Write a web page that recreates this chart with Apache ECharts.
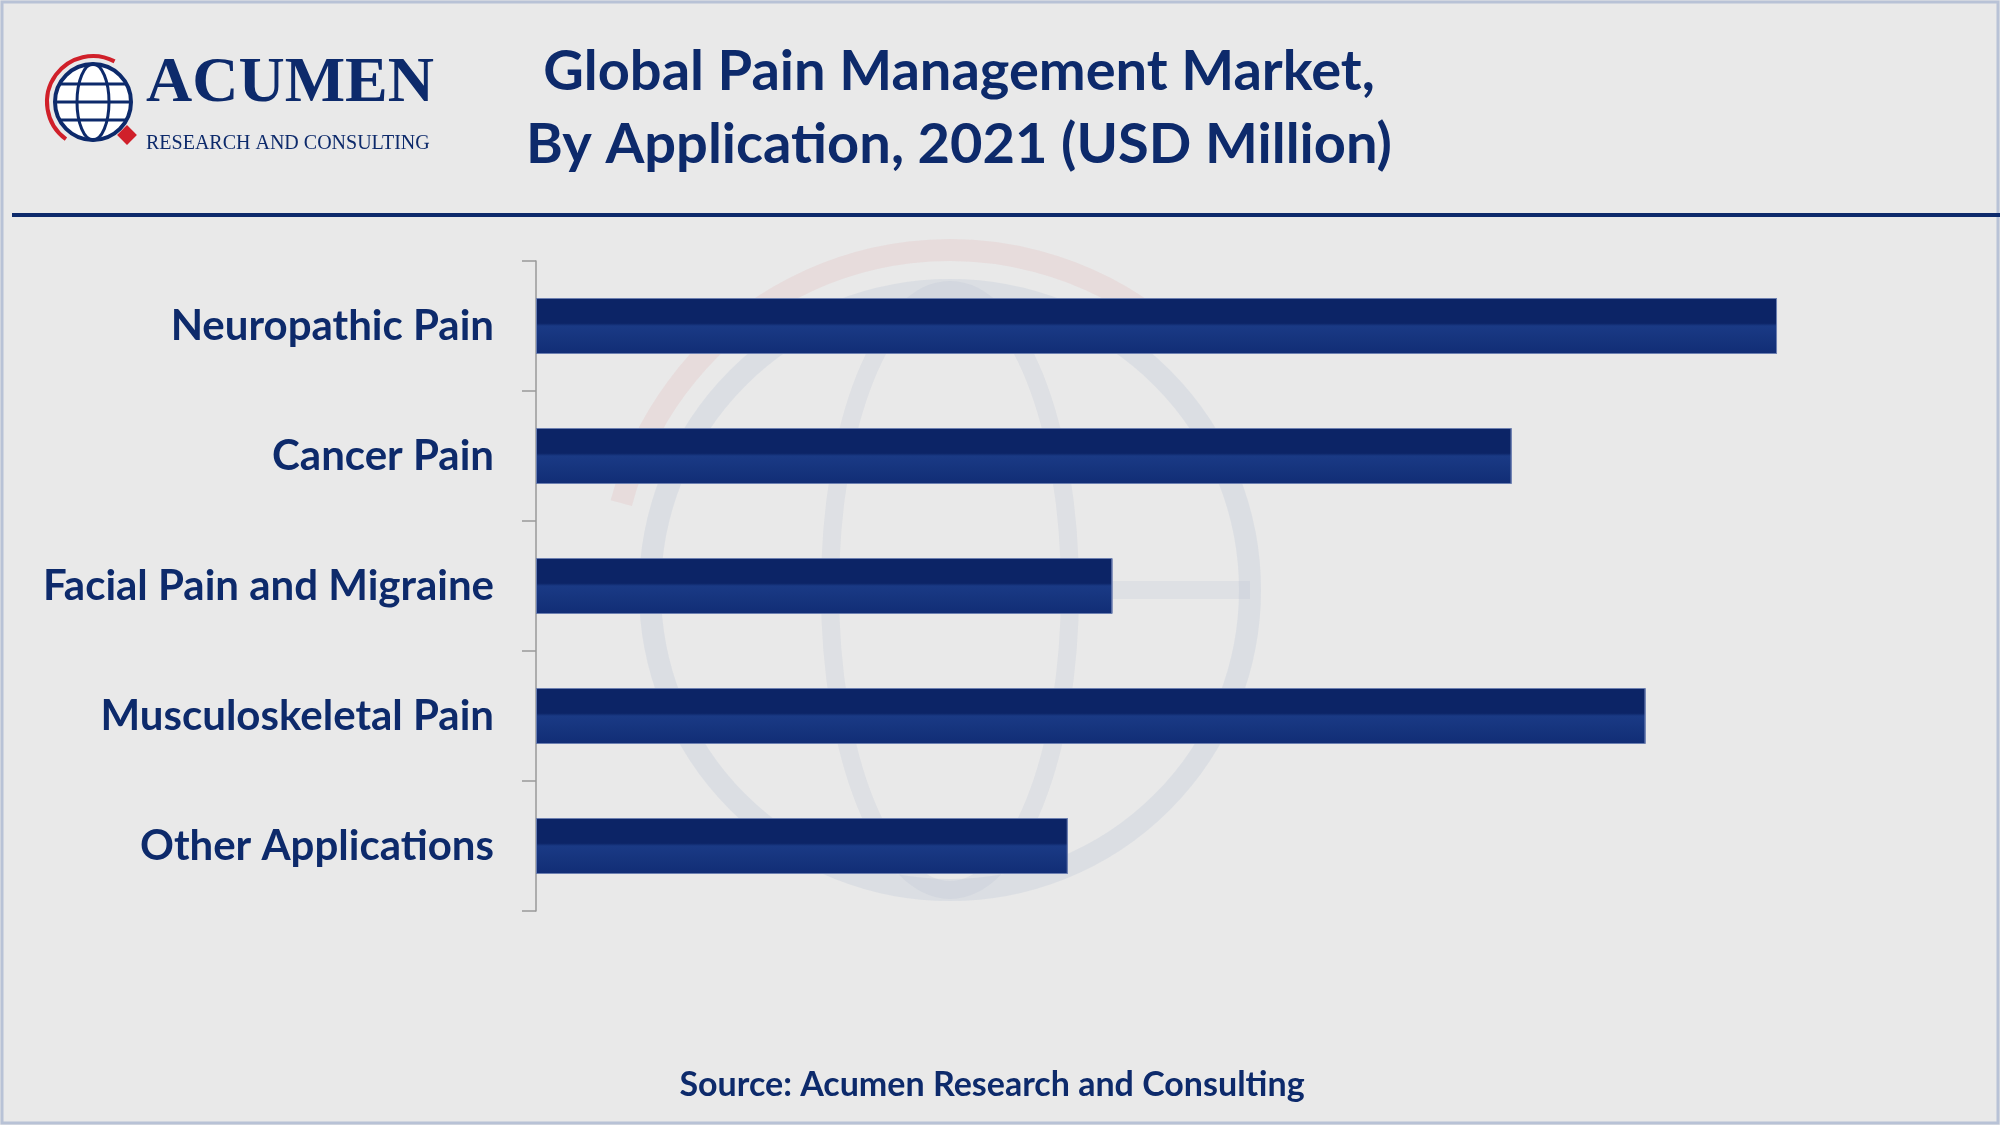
<!DOCTYPE html>
<html>
<head>
<meta charset="utf-8">
<script src="https://cdn.jsdelivr.net/npm/echarts@6/dist/echarts.min.js"></script>
<style>
  html, body { margin: 0; padding: 0; background: #e9e9e9; }
  #chart { width: 2000px; height: 1125px; }
</style>
</head>
<body>
<div id="chart"></div>
<script>
// data (relative bar lengths)
var categories = ['Neuropathic Pain', 'Cancer Pain', 'Facial Pain and Migraine', 'Musculoskeletal Pain', 'Other Applications'];
var values = [973, 765, 452, 870, 417];

var navy = '#0d2a6b';
var font = 'Lato, "Open Sans", sans-serif';

var myChart = echarts.init(document.getElementById('chart'));

var option = {
    backgroundColor: '#e9e9e9',
    grid: { left: 536, right: 61, top: 261, height: 650 },
    xAxis: {
        type: 'value', min: 0, max: 1100,
        show: false
    },
    yAxis: {
        type: 'category',
        data: categories,
        inverse: true,
        axisLine: { lineStyle: { color: '#999', width: 1.5 } },
        axisTick: { show: true, length: 14, lineStyle: { color: '#999', width: 1.5 } },
        axisLabel: { color: navy, fontSize: 42, fontWeight: 'bold', fontFamily: font, margin: 42 }
    },
    series: [{
        type: 'bar',
        data: values,
        barWidth: 56,
        itemStyle: {
            color: new echarts.graphic.LinearGradient(0, 0, 0, 1, [
                { offset: 0, color: '#0c2466' },
                { offset: 0.45, color: '#0c2466' },
                { offset: 0.5, color: '#1a3a85' },
                { offset: 1, color: '#112d75' }
            ]),
            borderColor: '#6c7fb0', borderWidth: 1
        },
        z: 3
    }],
    graphic: [
        // frame
        { type: 'rect', shape: { x: 2, y: 2, width: 1996, height: 1121 }, style: { fill: null, stroke: '#b8c2d6', lineWidth: 3 }, silent: true },
        // watermark globe
        { type: 'circle', shape: { cx: 950, cy: 590, r: 300 }, style: { fill: null, stroke: 'rgba(180,190,210,0.25)', lineWidth: 22 }, z: 0 },
        { type: 'ellipse', shape: { cx: 950, cy: 590, rx: 120, ry: 300 }, style: { fill: null, stroke: 'rgba(180,190,210,0.22)', lineWidth: 18 }, z: 0 },
        { type: 'line', shape: { x1: 650, y1: 590, x2: 1250, y2: 590 }, style: { stroke: 'rgba(180,190,210,0.22)', lineWidth: 18 }, z: 0 },
        { type: 'arc', shape: { cx: 950, cy: 590, r: 340, startAngle: 3.4, endAngle: 5.4 }, style: { fill: null, stroke: 'rgba(220,150,150,0.15)', lineWidth: 22 }, z: 0 },
        // logo
        { type: 'circle', shape: { cx: 93, cy: 102, r: 38 }, style: { fill: '#fff', stroke: navy, lineWidth: 4 } },
        { type: 'ellipse', shape: { cx: 93, cy: 102, rx: 16, ry: 38 }, style: { fill: null, stroke: navy, lineWidth: 3 } },
        { type: 'line', shape: { x1: 55, y1: 102, x2: 131, y2: 102 }, style: { stroke: navy, lineWidth: 3 } },
        { type: 'line', shape: { x1: 60, y1: 84, x2: 126, y2: 84 }, style: { stroke: navy, lineWidth: 3 } },
        { type: 'line', shape: { x1: 60, y1: 120, x2: 126, y2: 120 }, style: { stroke: navy, lineWidth: 3 } },
        { type: 'arc', shape: { cx: 93, cy: 102, r: 46, startAngle: 2.2, endAngle: 5.2 }, style: { fill: null, stroke: '#d0202a', lineWidth: 4 } },
        { type: 'rect', shape: { x: 120, y: 128, width: 14, height: 14 }, rotation: Math.PI / 4, originX: 127, originY: 135, style: { fill: '#d0202a' } },
        { type: 'text', left: 146, top: 52, style: { text: 'ACUMEN', fill: navy, font: 'bold 64px "Liberation Serif", serif' } },
        { type: 'text', left: 146, top: 134, style: { text: 'RESEARCH AND CONSULTING', fill: navy, font: '20px "Liberation Serif", serif' } },
        // title
        { type: 'text', x: 959, y: 72, style: { text: 'Global Pain Management Market,', fill: navy, font: 'bold 56px ' + font, align: 'center', verticalAlign: 'middle' } },
        { type: 'text', x: 959, y: 145, style: { text: 'By Application, 2021 (USD Million)', fill: navy, font: 'bold 56px ' + font, align: 'center', verticalAlign: 'middle' } },
        { type: 'line', shape: { x1: 12, y1: 215, x2: 2000, y2: 215 }, style: { stroke: navy, lineWidth: 4 } },
        // source
        { type: 'text', x: 992, y: 1085, style: { text: 'Source: Acumen Research and Consulting', fill: navy, font: 'bold 34px ' + font, align: 'center', verticalAlign: 'middle' } }
    ]
};

myChart.setOption(option);
</script>
</body>
</html>
